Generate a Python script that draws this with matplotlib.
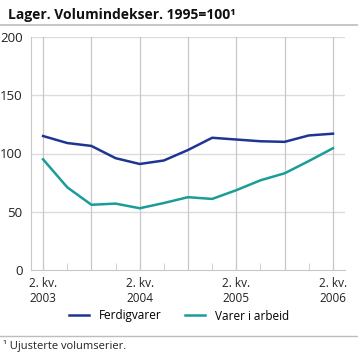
import numpy as np
import matplotlib.pyplot as plt
from matplotlib.lines import Line2D

# data (kvartal, 2. kv. 2003 - 2. kv. 2006)
kvartal = list(range(13))
ferdigvarer = [115, 109, 106.5, 96, 91, 94, 103, 113.5, 112, 110.5, 110, 115.5, 117]
varer_i_arbeid = [95, 71, 56, 57, 53, 57.5, 62.5, 61, 68.5, 77, 83, 93.5, 104.5]
tick_pos = [0, 4, 8, 12]
tick_labels = ["2. kv.\n2003", "2. kv.\n2004", "2. kv.\n2005", "2. kv.\n2006"]

plt.rcParams["font.family"] = ["Open Sans", "DejaVu Sans"]

fig = plt.figure(figsize=(3.58, 3.52), dpi=100)
ax = fig.add_axes([31 / 358, 1 - 270 / 352, (345 - 31) / 358, (270 - 37) / 352])

ax.plot(kvartal, ferdigvarer, color="#1f3594", linewidth=1.8, label="Ferdigvarer")
ax.plot(kvartal, varer_i_arbeid, color="#1a9d99", linewidth=1.8, label="Varer i arbeid")

ax.set_xlim(-0.5, 12.5)
ax.set_ylim(0, 200)
ax.set_yticks([0, 50, 100, 150, 200])
ax.set_xticks(tick_pos)
ax.set_xticklabels(tick_labels, fontsize=8.5, color="#222222", linespacing=1.2)
ax.set_xticks(kvartal, minor=True)
ax.tick_params(axis="y", length=0, labelsize=9.5, colors="#222222", pad=6)
ax.tick_params(axis="x", which="both", direction="in", length=5, color="#c8c8c8", pad=5)

# gridlines
for y in [50, 100, 150, 200]:
    ax.axhline(y, color="#dcdcdc", linewidth=1, zorder=0)
for x in tick_pos + [2, 6, 10]:
    ax.axvline(x, color="#c8c8c8", linewidth=0.9, zorder=0)

for s in ["top", "right"]:
    ax.spines[s].set_visible(False)
ax.spines["left"].set_color("#c8c8c8")
ax.spines["bottom"].set_color("#c8c8c8")

fig.text(8 / 358, 1 - 15 / 352, "Lager. Volumindekser. 1995=100\u00b9", fontsize=10,
         fontweight="bold", va="center", ha="left", color="#111111")
fig.add_artist(Line2D([0, 1], [1 - 25 / 352] * 2, color="#bdbdbd", linewidth=1.2))

fig.legend(loc="center", bbox_to_anchor=(0.5, 1 - 316 / 352), ncol=2, frameon=False,
           fontsize=8.5, handlelength=1.7, columnspacing=1.9, handletextpad=0.85)

fig.add_artist(Line2D([0, 1], [1 - 336 / 352] * 2, color="#bdbdbd", linewidth=1))
fig.text(3 / 358, 1 - 346 / 352, "\u00b9 Ujusterte volumserier.", fontsize=8,
         va="center", ha="left", color="#222222")

fig.savefig("out.png", dpi=100)
